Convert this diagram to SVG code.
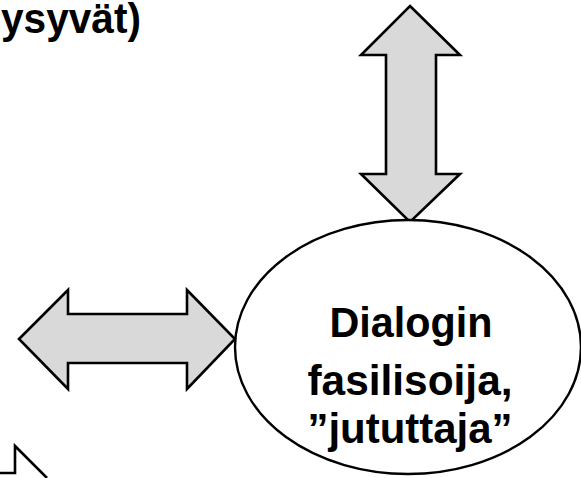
<svg xmlns="http://www.w3.org/2000/svg" width="581" height="478" viewBox="0 0 581 478">
<style>
.arrow{fill:#d9d9d9;stroke:#000;stroke-width:2.6;stroke-linejoin:miter}
.t{font-family:"Liberation Sans",Arial,sans-serif;font-weight:bold;font-size:43px;fill:#000}
</style>
<rect width="581" height="478" fill="#fff"/>
<g id="label-top">
<text class="t" x="1" y="33" font-size="42" textLength="140" lengthAdjust="spacingAndGlyphs">ysyvät)</text>
</g>
<g id="connectors">
<polygon id="arrow-vertical" class="arrow" points="410,6 460,55 436,55 436,174 460,174 410,222 361,174 386,174 386,55 361,55"/>
<polygon id="arrow-horizontal" class="arrow" points="19,339 68,290 68,314 187,314 187,290 235,339 187,389 187,363 68,363 68,389"/>
<polyline id="arrow-bottom-left" points="0,473 15,473 15,446 47,478" fill="#fff" stroke="#000" stroke-width="2.6"/>
</g>
<g id="node-facilitator">
<ellipse cx="408" cy="347" rx="173" ry="127" fill="#fff" stroke="#000" stroke-width="2.4"/>
<text class="t" x="411" y="337" text-anchor="middle" textLength="163" lengthAdjust="spacingAndGlyphs">Dialogin</text>
<text class="t" x="410" y="395" text-anchor="middle" textLength="205" lengthAdjust="spacingAndGlyphs">fasilisoija,</text>
<text class="t" x="410" y="443" text-anchor="middle" textLength="205" lengthAdjust="spacingAndGlyphs">”jututtaja”</text>
</g>
</svg>
